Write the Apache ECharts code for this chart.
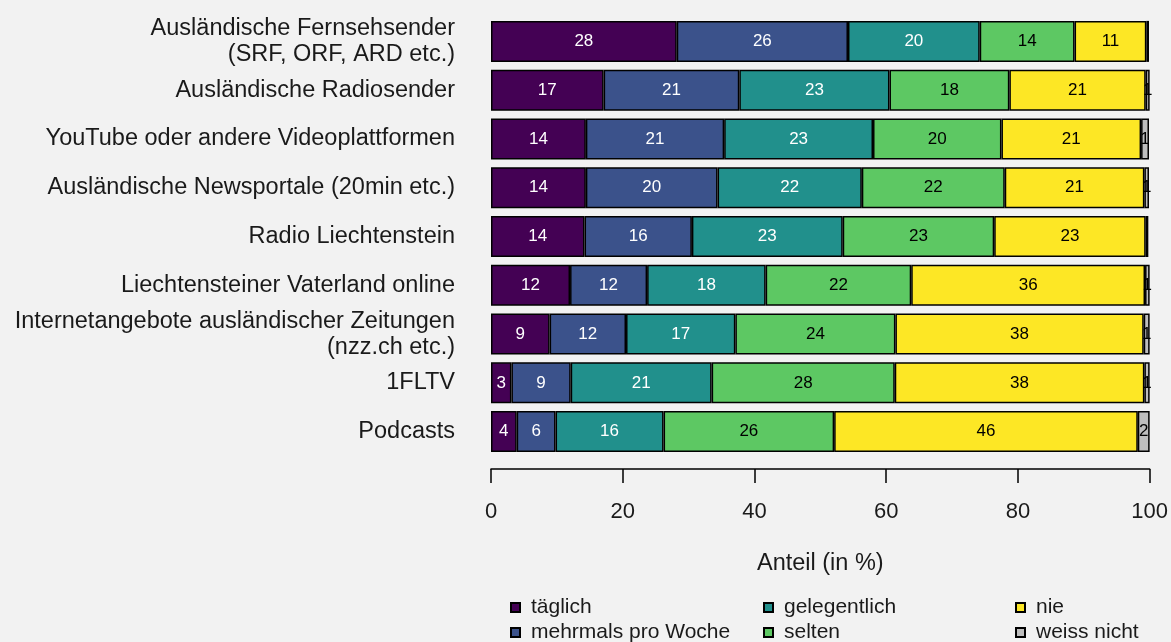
<!DOCTYPE html>
<html>
<head>
<meta charset="utf-8">
<script src="https://cdn.jsdelivr.net/npm/echarts@6/dist/echarts.min.js"></script>
<style>
  html, body { margin: 0; padding: 0; background: #f2f2f2; }
  #chart { width: 1171px; height: 642px; }
</style>
</head>
<body>
<div id="chart"></div>
<script>
var categories = [
    'Ausländische Fernsehsender\n(SRF, ORF, ARD etc.)',
    'Ausländische Radiosender',
    'YouTube oder andere Videoplattformen',
    'Ausländische Newsportale (20min etc.)',
    'Radio Liechtenstein',
    'Liechtensteiner Vaterland online',
    'Internetangebote ausländischer Zeitungen\n(nzz.ch etc.)',
    '1FLTV',
    'Podcasts'
];

var taeglich     = [28.2, 17.1, 14.4, 14.4, 14.2, 12.0,  8.9,  3.1,  3.9];
var mehrmals     = [26.0, 20.6, 21.0, 20.0, 16.3, 11.7, 11.6,  9.0,  5.9];
var gelegentlich = [20.0, 22.8, 22.6, 21.9, 22.9, 18.0, 16.6, 21.4, 16.4];
var selten       = [14.4, 18.2, 19.5, 21.7, 23.0, 22.1, 24.3, 27.8, 25.9];
var nie          = [10.9, 20.7, 21.2, 21.2, 23.0, 35.5, 37.7, 37.9, 46.1];
var weissNicht   = [ 0.4,  0.6,  1.2,  0.7,  0.4,  0.7,  0.9,  0.8,  1.8];

var xTicks = [0, 20, 40, 60, 80, 100];

var font = 'Liberation Sans, Arial, sans-serif';

function makeSeries(name, data, color, labelColor) {
    return {
        name: name,
        type: 'bar',
        stack: 'total',
        barWidth: 41,
        data: data,
        itemStyle: {
            color: color,
            borderColor: '#000',
            borderWidth: 1.5
        },
        label: {
            show: true,
            position: 'inside',
            color: labelColor,
            fontSize: 17,
            fontFamily: font,
            formatter: function (p) {
                var v = Math.round(p.value);
                return v === 0 ? '' : String(v);
            }
        },
        emphasis: { disabled: true }
    };
}

var myChart = echarts.init(document.getElementById('chart'));

// three small vertical legends so the items run column by column
var legendBase = {
    orient: 'vertical',
    bottom: -6,
    itemWidth: 9,
    itemHeight: 9,
    itemGap: 4,
    icon: 'rect',
    textStyle: {
        fontSize: 21,
        color: '#1a1a1a',
        fontFamily: font,
        padding: [0, 0, 0, 6]
    },
    selectedMode: false
};

var option = {
    backgroundColor: '#f2f2f2',
    animation: false,
    textStyle: { fontFamily: font },
    grid: {
        left: 491,
        right: 18,
        top: 17,
        bottom: 186,
        containLabel: false
    },
    legend: [
        Object.assign({}, legendBase, { left: 505, data: ['täglich', 'mehrmals pro Woche'] }),
        Object.assign({}, legendBase, { left: 758, data: ['gelegentlich', 'selten'] }),
        Object.assign({}, legendBase, { left: 1010, data: ['nie', 'weiss nicht'] })
    ],
    xAxis: {
        type: 'value',
        min: xTicks[0],
        max: xTicks[xTicks.length - 1],
        interval: 20,
        offset: 13,
        name: 'Anteil (in %)',
        nameLocation: 'middle',
        nameGap: 83,
        nameTextStyle: { fontSize: 23.5, color: '#1a1a1a', fontFamily: font },
        axisLine: { show: true, lineStyle: { color: '#000', width: 1.5 } },
        axisTick: { show: true, length: 14, lineStyle: { color: '#000', width: 1.5 } },
        axisLabel: { fontSize: 22, color: '#1a1a1a', margin: 32, fontFamily: font },
        splitLine: { show: false }
    },
    yAxis: {
        type: 'category',
        inverse: true,
        data: categories,
        axisLine: { show: false },
        axisTick: { show: false },
        axisLabel: {
            fontSize: 23.5,
            color: '#1a1a1a',
            margin: 36,
            lineHeight: 26,
            align: 'right',
            fontFamily: font
        }
    },
    series: [
        makeSeries('täglich', taeglich, '#440154', '#ffffff'),
        makeSeries('mehrmals pro Woche', mehrmals, '#3b528b', '#ffffff'),
        makeSeries('gelegentlich', gelegentlich, '#21908c', '#ffffff'),
        makeSeries('selten', selten, '#5dc863', '#000000'),
        makeSeries('nie', nie, '#fde725', '#000000'),
        makeSeries('weiss nicht', weissNicht, '#bebebe', '#000000')
    ]
};

myChart.setOption(option);
window.addEventListener('resize', function () {
    myChart.resize();
});
</script>
</body>
</html>
